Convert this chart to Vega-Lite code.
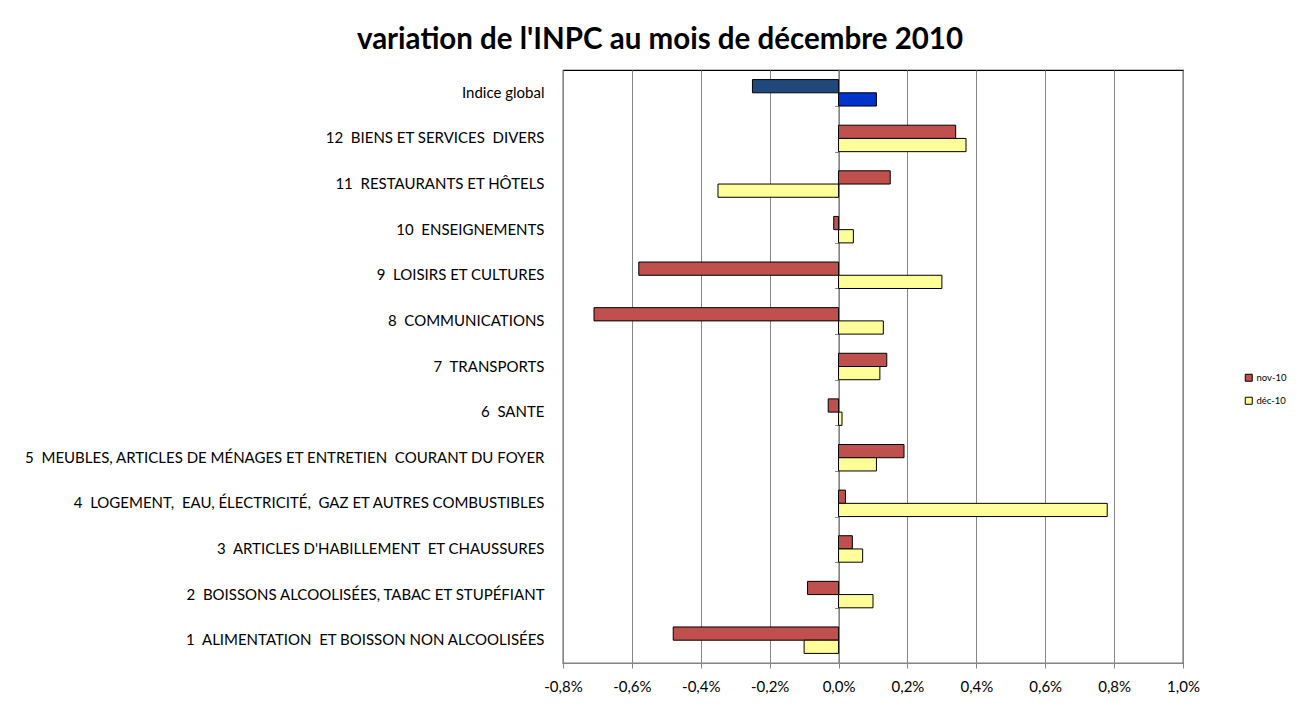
{
  "$schema": "https://vega.github.io/schema/vega-lite/v6.json",
  "width": 620,
  "height": 593,
  "autosize": {"type": "none"},
  "padding": {"left": 563, "top": 70, "right": 113, "bottom": 58},
  "background": "white",
  "config": {
    "font": "Lato",
    "locale": {
      "number": {"decimal": ",", "thousands": " ", "grouping": [3], "currency": ["", " €"], "minus": "-"}
    },
    "view": {"stroke": "#000000", "strokeWidth": 1.2}
  },
  "title": {
    "text": "variation de l'INPC au mois de décembre 2010",
    "font": "Lato",
    "fontSize": 29.5,
    "fontWeight": "bold",
    "color": "#000000",
    "anchor": "middle",
    "frame": "group",
    "dx": -213,
    "offset": 15
  },
  "data": {
    "values": [
      {"poste": "Indice global", "serie": "nov-10", "valeur": -0.0025},
      {"poste": "Indice global", "serie": "déc-10", "valeur": 0.0011},
      {"poste": "12\u00a0\u00a0BIENS ET SERVICES\u00a0\u00a0DIVERS", "serie": "nov-10", "valeur": 0.0034},
      {"poste": "12\u00a0\u00a0BIENS ET SERVICES\u00a0\u00a0DIVERS", "serie": "déc-10", "valeur": 0.0037},
      {"poste": "11\u00a0\u00a0RESTAURANTS ET HÔTELS", "serie": "nov-10", "valeur": 0.0015},
      {"poste": "11\u00a0\u00a0RESTAURANTS ET HÔTELS", "serie": "déc-10", "valeur": -0.0035},
      {"poste": "10\u00a0\u00a0ENSEIGNEMENTS\u00a0", "serie": "nov-10", "valeur": -0.00014},
      {"poste": "10\u00a0\u00a0ENSEIGNEMENTS\u00a0", "serie": "déc-10", "valeur": 0.00043},
      {"poste": "9\u00a0\u00a0LOISIRS ET CULTURES", "serie": "nov-10", "valeur": -0.0058},
      {"poste": "9\u00a0\u00a0LOISIRS ET CULTURES", "serie": "déc-10", "valeur": 0.0030},
      {"poste": "8\u00a0\u00a0COMMUNICATIONS\u00a0", "serie": "nov-10", "valeur": -0.0071},
      {"poste": "8\u00a0\u00a0COMMUNICATIONS\u00a0", "serie": "déc-10", "valeur": 0.0013},
      {"poste": "7\u00a0\u00a0TRANSPORTS", "serie": "nov-10", "valeur": 0.0014},
      {"poste": "7\u00a0\u00a0TRANSPORTS", "serie": "déc-10", "valeur": 0.0012},
      {"poste": "6\u00a0\u00a0SANTE", "serie": "nov-10", "valeur": -0.0003},
      {"poste": "6\u00a0\u00a0SANTE", "serie": "déc-10", "valeur": 0.0001},
      {"poste": "5\u00a0\u00a0MEUBLES, ARTICLES DE MÉNAGES ET ENTRETIEN\u00a0\u00a0COURANT DU FOYER", "serie": "nov-10", "valeur": 0.0019},
      {"poste": "5\u00a0\u00a0MEUBLES, ARTICLES DE MÉNAGES ET ENTRETIEN\u00a0\u00a0COURANT DU FOYER", "serie": "déc-10", "valeur": 0.0011},
      {"poste": "4\u00a0\u00a0LOGEMENT,\u00a0\u00a0EAU, ÉLECTRICITÉ,\u00a0\u00a0GAZ ET AUTRES COMBUSTIBLES", "serie": "nov-10", "valeur": 0.0002},
      {"poste": "4\u00a0\u00a0LOGEMENT,\u00a0\u00a0EAU, ÉLECTRICITÉ,\u00a0\u00a0GAZ ET AUTRES COMBUSTIBLES", "serie": "déc-10", "valeur": 0.0078},
      {"poste": "3\u00a0\u00a0ARTICLES D'HABILLEMENT\u00a0\u00a0ET CHAUSSURES", "serie": "nov-10", "valeur": 0.0004},
      {"poste": "3\u00a0\u00a0ARTICLES D'HABILLEMENT\u00a0\u00a0ET CHAUSSURES", "serie": "déc-10", "valeur": 0.0007},
      {"poste": "2\u00a0\u00a0BOISSONS ALCOOLISÉES, TABAC ET STUPÉFIANT", "serie": "nov-10", "valeur": -0.0009},
      {"poste": "2\u00a0\u00a0BOISSONS ALCOOLISÉES, TABAC ET STUPÉFIANT", "serie": "déc-10", "valeur": 0.0010},
      {"poste": "1\u00a0\u00a0ALIMENTATION\u00a0\u00a0ET BOISSON NON ALCOOLISÉES", "serie": "nov-10", "valeur": -0.0048},
      {"poste": "1\u00a0\u00a0ALIMENTATION\u00a0\u00a0ET BOISSON NON ALCOOLISÉES", "serie": "déc-10", "valeur": -0.0010}
    ]
  },
  "resolve": {"axis": {"y": "independent"}},
  "layer": [
    {
      "mark": {"type": "bar", "stroke": "#000000", "strokeWidth": 1},
      "encoding": {
        "y": {
          "field": "poste",
          "type": "nominal",
          "sort": null,
          "scale": {"paddingInner": 0.42, "paddingOuter": 0.21},
          "axis": {
            "title": null,
            "orient": "left",
            "domain": false,
            "ticks": false,
            "labelPadding": 19,
            "labelFont": "Lato",
            "labelFontSize": 15,
            "labelColor": "#000000",
            "labelLimit": 700
          }
        },
        "yOffset": {"field": "serie", "type": "nominal", "sort": ["nov-10", "déc-10"]},
        "x": {
          "field": "valeur",
          "type": "quantitative",
          "scale": {"domain": [-0.008, 0.010], "nice": false, "zero": false},
          "axis": {
            "title": null,
            "format": ".1%",
            "values": [-0.008, -0.006, -0.004, -0.002, 0, 0.002, 0.004, 0.006, 0.008, 0.010],
            "labelFlush": false,
            "labelOverlap": false,
            "grid": true,
            "gridColor": "#868686",
            "gridWidth": 1,
            "gridOpacity": 1,
            "domainColor": "#868686",
            "tickColor": "#868686",
            "tickSize": 5,
            "labelFont": "Lato",
            "labelFontSize": 15,
            "labelColor": "#000000",
            "labelPadding": 11
          }
        },
        "color": {
          "field": "serie",
          "type": "nominal",
          "scale": {"domain": ["nov-10", "déc-10"], "range": ["#C0504D", "#FFFF99"]},
          "condition": [
            {"test": "datum.poste === 'Indice global' && datum.serie === 'nov-10'", "value": "#1F497D"},
            {"test": "datum.poste === 'Indice global' && datum.serie === 'déc-10'", "value": "#0033CC"}
          ],
          "legend": {
            "title": null,
            "orient": "none",
            "legendX": 681,
            "legendY": 303,
            "symbolType": "square",
            "symbolSize": 49,
            "symbolStrokeColor": "#000000",
            "symbolStrokeWidth": 1,
            "labelFont": "Lato",
            "labelFontSize": 9.5,
            "labelColor": "#000000",
            "labelOffset": 3,
            "rowPadding": 11
          }
        }
      }
    },
    {
      "mark": {"type": "point", "opacity": 0},
      "encoding": {
        "y": {
          "field": "poste",
          "type": "nominal",
          "sort": null,
          "axis": {
            "title": null,
            "orient": "left",
            "offset": -275.6,
            "labels": false,
            "domain": true,
            "domainColor": "#868686",
            "domainWidth": 1.5,
            "ticks": true,
            "tickBand": "extent",
            "tickColor": "#868686",
            "tickSize": 4,
            "grid": false
          }
        },
        "x": {"field": "valeur", "type": "quantitative"}
      }
    }
  ]
}
